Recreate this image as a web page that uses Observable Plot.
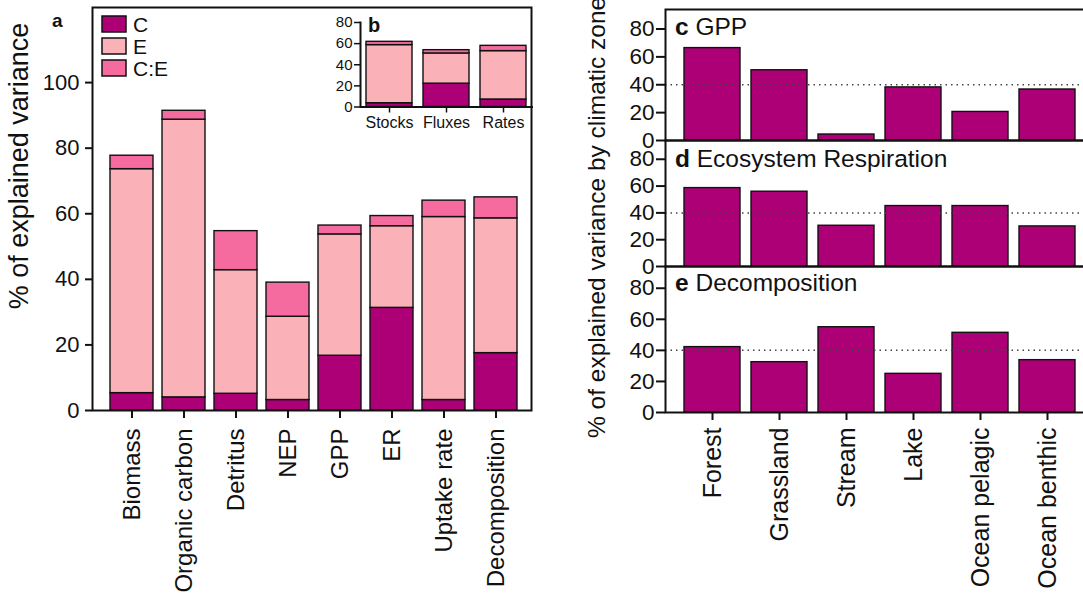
<!DOCTYPE html>
<html>
<head>
<meta charset="utf-8">
<script src="https://cdn.jsdelivr.net/npm/d3@7"></script>
<script src="https://cdn.jsdelivr.net/npm/@observablehq/plot@0.6"></script>
<style>
  body { margin: 0; background: #fff; }
  #fig { position: relative; width: 1083px; height: 600px; overflow: hidden;
         font-family: "Liberation Sans", Arial, Helvetica, sans-serif; color: #111; }
  #fig > svg { position: absolute; }
</style>
</head>
<body>
<div id="fig"></div>
<script>
// (a) variance partition per ecosystem variable: climate (C), environment (E), interaction (C:E)
const variables = ["Biomass", "Organic carbon", "Detritus", "NEP", "GPP", "ER", "Uptake rate", "Decomposition"];
const partC  = [5.3, 4.0, 5.1, 3.2, 16.7, 31.3, 3.2, 17.5];
const partE  = [68.3, 84.7, 37.7, 25.4, 37.0, 24.9, 55.8, 41.1];
const partCE = [4.1, 2.7, 11.9, 10.4, 2.7, 3.1, 5.0, 6.4];

// (b) the same partition pooled by variable type
const groups  = ["Stocks", "Fluxes", "Rates"];
const groupC  = [3.6, 22.1, 7.1];
const groupE  = [55.0, 28.6, 45.8];
const groupCE = [3.1, 3.1, 5.0];

const components = ["C", "E", "C:E"];
const componentColors = ["#ad0077", "#fab2b8", "#f56b9f"];

// (c–e) variance explained by climatic zone within each ecosystem type
const zones      = ["Forest", "Grassland", "Stream", "Lake", "Ocean pelagic", "Ocean benthic"];
const zoneGPP    = [66.3, 50.4, 4.3, 38.1, 20.5, 36.6];
const zoneER     = [58.5, 55.8, 30.4, 45.1, 45.1, 29.9];
const zoneDecomp = [42.1, 32.4, 54.9, 24.9, 51.3, 33.7];
const referenceLevel = [40];

const panelTitles = [["c", "GPP"], ["d", "Ecosystem Respiration"], ["e", "Decomposition"]];

const FONT = '"Liberation Sans", Arial, Helvetica, sans-serif';
const INK = "#111";
const fig = document.getElementById("fig");

function place(svg, left, top) {
  svg.style.left = left + "px";
  svg.style.top = top + "px";
  fig.appendChild(svg);
  return svg;
}

function stackRows(names, c, e, ce) {
  return names.flatMap((n, i) => [
    {name: n, part: "C", value: c[i]},
    {name: n, part: "E", value: e[i]},
    {name: n, part: "C:E", value: ce[i]}
  ]);
}

const colorScale = {domain: components, range: componentColors};
const baseStyle = {fontFamily: FONT, color: INK, background: "transparent", overflow: "visible"};

// ---- panel a ----
place(Plot.plot({
  width: 545, height: 600,
  marginLeft: 92, marginRight: 14, marginTop: 7, marginBottom: 190,
  style: baseStyle,
  x: {domain: variables, padding: 0.17, insetLeft: 7, insetRight: 2, label: null},
  y: {domain: [0, 122.9], label: null},
  color: colorScale,
  marks: [
    Plot.barY(stackRows(variables, partC, partE, partCE),
      {x: "name", y: "value", fill: "part", stroke: INK, strokeWidth: 1.4}),
    Plot.axisY({ticks: [0, 20, 40, 60, 80, 100], tickSize: 7, tickPadding: 6, fontSize: 22, strokeWidth: 2, label: null}),
    Plot.axisX({tickSize: 8, tickPadding: 10, tickRotate: -90, fontSize: 24, strokeWidth: 2, label: null}),
    Plot.frame({stroke: INK, strokeWidth: 2})
  ]
}), 0, 0);

// ---- panel b (inset) ----
place(Plot.plot({
  width: 215, height: 140,
  marginLeft: 40, marginRight: 2, marginTop: 22, marginBottom: 33.5,
  style: baseStyle,
  x: {domain: groups, paddingInner: 0.19, paddingOuter: 0.1, label: null},
  y: {domain: [0, 80], label: null},
  color: colorScale,
  marks: [
    Plot.barY(stackRows(groups, groupC, groupE, groupCE),
      {x: "name", y: "value", fill: "part", stroke: INK, strokeWidth: 1.4}),
    Plot.axisY({ticks: [0, 20, 40, 60, 80], tickSize: 6, tickPadding: 2, fontSize: 15, strokeWidth: 1.5, label: null}),
    Plot.axisX({tickSize: 6, tickPadding: 4, fontSize: 16, strokeWidth: 1.5, label: null}),
    Plot.frame({anchor: "left", stroke: INK, strokeWidth: 2}),
    Plot.ruleY([0], {stroke: INK, strokeWidth: 2})
  ]
}), 320, 0);

// ---- panels c, d, e ----
function zonePanel(values, top, height, marginTop, marginBottom, withLabels) {
  const rows = zones.map((z, i) => ({zone: z, value: values[i]}));
  return place(Plot.plot({
    width: 530, height,
    marginLeft: 105, marginRight: 0, marginTop, marginBottom,
    style: baseStyle,
    x: {domain: zones, padding: 0.163, insetLeft: 5, insetRight: 1, label: null,
        axis: withLabels ? undefined : null},
    y: {domain: [0, 94], label: null},
    marks: [
      Plot.barY(rows, {x: "zone", y: "value", fill: componentColors[0], stroke: INK, strokeWidth: 1.4}),
      Plot.ruleY(referenceLevel, {stroke: "#444", strokeWidth: 1.5, strokeDasharray: "1.5,4"}),
      Plot.axisY({ticks: [0, 20, 40, 60, 80], tickSize: 9, tickPadding: 2, fontSize: 22.5, strokeWidth: 2, label: null}),
      withLabels
        ? Plot.axisX({tickSize: 8, tickPadding: 7, tickRotate: -90, fontSize: 25, strokeWidth: 2, label: null})
        : null,
      Plot.frame({stroke: INK, strokeWidth: 2})
    ]
  }), 560, top);
}
zonePanel(zoneGPP, 0, 152, 9, 12, false);
zonePanel(zoneER, 128, 150, 12, 12, false);
zonePanel(zoneDecomp, 254, 346, 12, 188, true);

// ---- annotation layer: panel letters, titles, legend ----
const ns = "http://www.w3.org/2000/svg";
const ann = document.createElementNS(ns, "svg");
ann.setAttribute("width", 1083);
ann.setAttribute("height", 600);
ann.style.pointerEvents = "none";
ann.style.fontFamily = FONT;
function addText(str, x, y, attrs = {}) {
  const t = document.createElementNS(ns, "text");
  t.setAttribute("x", x);
  t.setAttribute("y", y);
  t.setAttribute("fill", INK);
  for (const [k, v] of Object.entries(attrs)) t.setAttribute(k, v);
  t.textContent = str;
  ann.appendChild(t);
  return t;
}
addText("a", 52, 27, {"font-size": 19, "font-weight": "bold"});
addText("b", 368, 32, {"font-size": 20, "font-weight": "bold"});

components.forEach((c, i) => {
  const r = document.createElementNS(ns, "rect");
  r.setAttribute("x", 102); r.setAttribute("y", 16 + i * 22);
  r.setAttribute("width", 24); r.setAttribute("height", 16);
  r.setAttribute("fill", componentColors[i]);
  r.setAttribute("stroke", INK); r.setAttribute("stroke-width", 1.5);
  ann.appendChild(r);
  addText(c, 133, 31.5 + i * 22, {"font-size": 21});
});

addText("% of explained variance", 0, 0,
  {"font-size": 27, "text-anchor": "middle", transform: "translate(28,166) rotate(-90)"});
addText("% of explained variance by climatic zone", 0, 0,
  {"font-size": 24.5, "text-anchor": "start", transform: "translate(605,438) rotate(-90)"});

const titleBaselines = [35, 166.7, 290.7];
panelTitles.forEach(([letter, name], i) => {
  const t = addText("", 675, titleBaselines[i], {"font-size": 24.5});
  const b = document.createElementNS(ns, "tspan");
  b.setAttribute("font-weight", "bold");
  b.textContent = letter;
  const n = document.createElementNS(ns, "tspan");
  n.textContent = " " + name;
  t.appendChild(b); t.appendChild(n);
});
place(ann, 0, 0);
</script>
</body>
</html>
